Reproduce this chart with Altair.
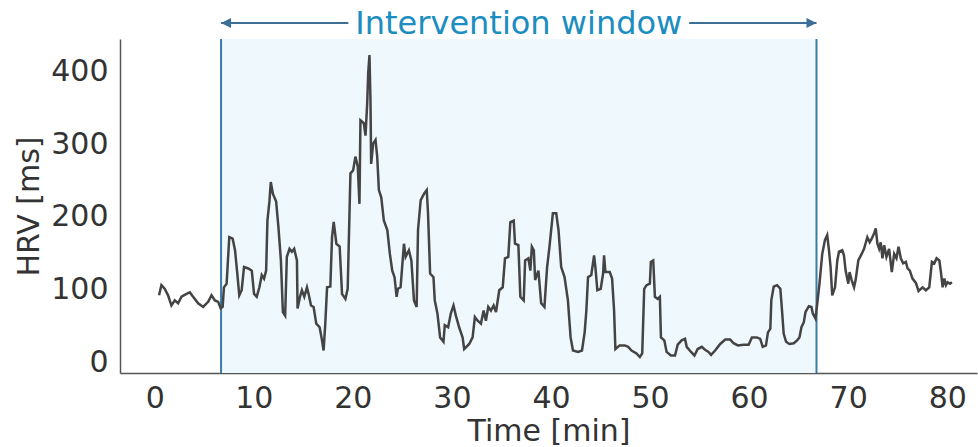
import altair as alt
import pandas as pd

# Time [min] and HRV [ms]
time_min = [0.44, 0.68, 1.01, 1.35, 1.69, 2.03, 2.36, 2.71, 3.21, 3.55, 3.88, 4.39, 4.89, 5.40, 5.74, 6.08, 6.41, 6.66, 6.86, 6.99,
            7.26, 7.53, 7.87, 8.11, 8.34, 8.54, 8.78, 9.02, 9.45, 9.80, 10.03, 10.30, 10.57, 10.81, 11.04, 11.25, 11.38, 11.58, 11.72, 11.93,
            12.26, 12.49, 12.74, 12.94, 13.17, 13.34, 13.61, 13.85, 14.08, 14.36, 14.42, 14.67, 14.86, 15.10, 15.37, 15.53, 15.78, 16.04, 16.31, 16.65,
            16.89, 17.05, 17.22, 17.40, 17.73, 17.90, 18.07, 18.34, 18.67, 18.81, 18.91, 19.25, 19.48, 19.76, 20.03, 20.26, 20.50, 20.67, 20.77, 21.11,
            21.28, 21.45, 21.55, 21.68, 21.78, 21.85, 22.05, 22.29, 22.46, 22.63, 22.87, 23.13, 23.48, 23.74, 23.98, 24.21, 24.42, 24.55, 24.82, 25.16,
            25.33, 25.66, 25.91, 26.17, 26.44, 26.58, 26.85, 27.19, 27.46, 27.59, 27.80, 28.14, 28.27, 28.54, 28.81, 29.15, 29.28, 29.62, 29.89, 30.16,
            30.40, 30.73, 31.08, 31.24, 31.75, 32.09, 32.32, 32.60, 32.93, 33.20, 33.43, 33.67, 33.94, 34.21, 34.45, 34.78, 35.13, 35.36, 35.69, 35.90,
            36.24, 36.37, 36.71, 36.91, 37.25, 37.39, 37.72, 37.92, 38.07, 38.27, 38.40, 38.73, 39.01, 39.34, 39.61, 39.85, 40.19, 40.53, 40.76, 41.03,
            41.37, 41.71, 41.98, 42.22, 42.73, 43.13, 43.40, 43.57, 43.74, 44.07, 44.35, 44.48, 44.68, 45.02, 45.26, 45.36, 45.49, 45.93, 46.17, 46.37,
            46.50, 46.94, 47.45, 47.79, 48.13, 48.63, 48.97, 49.21, 49.41, 49.65, 49.98, 50.08, 50.32, 50.49, 50.76, 50.99, 51.10, 51.44, 51.67, 52.11,
            52.52, 52.79, 53.19, 53.53, 53.70, 54.14, 54.48, 54.81, 55.22, 55.55, 55.90, 56.16, 56.57, 57.08, 57.59, 58.09, 58.43, 58.87, 59.44, 59.95,
            60.28, 60.79, 61.12, 61.37, 61.70, 61.90, 62.14, 62.24, 62.48, 62.82, 63.15, 63.32, 63.49, 63.73, 64.06, 64.51, 64.84, 65.08, 65.28, 65.52,
            65.69, 66.03, 66.29, 66.43, 66.70, 66.87, 67.10, 67.38, 67.65, 67.88, 68.06, 68.22, 68.39, 68.67, 68.90, 69.07, 69.40, 69.57, 69.74, 70.01,
            70.14, 70.35, 70.59, 70.75, 71.02, 71.36, 71.60, 71.93, 72.17, 72.37, 72.61, 72.78, 72.95, 73.12, 73.28, 73.46, 73.63, 73.86, 74.13, 74.40,
            74.64, 74.87, 75.08, 75.31, 75.55, 75.82, 75.99, 76.22, 76.49, 76.83, 77.10, 77.51, 77.84, 78.18, 78.45, 78.69, 78.92, 79.20, 79.36, 79.53,
            79.70, 79.87, 80.04, 80.27, 80.47]

hrv_ms = [92, 106, 101, 92, 78, 85, 81, 90, 94, 96, 90, 81, 76, 83, 92, 85, 83, 74, 76, 103,
          108, 172, 170, 154, 122, 92, 99, 131, 129, 126, 94, 90, 103, 120, 115, 126, 195, 221, 248, 232,
          221, 186, 140, 69, 64, 145, 156, 152, 156, 140, 74, 90, 99, 90, 103, 94, 78, 76, 53, 48,
          30, 16, 53, 103, 104, 172, 193, 163, 159, 122, 94, 87, 101, 260, 264, 283, 269, 218, 333, 329,
          312, 356, 398, 423, 361, 273, 301, 306, 283, 237, 227, 195, 182, 149, 126, 117, 90, 101, 103, 163,
          145, 154, 140, 85, 76, 182, 223, 232, 237, 205, 122, 117, 85, 67, 34, 28, 51, 48, 67, 78,
          64, 48, 34, 18, 25, 34, 62, 57, 53, 71, 57, 76, 71, 78, 69, 99, 103, 143, 145, 193,
          195, 163, 161, 90, 85, 140, 143, 126, 159, 154, 113, 126, 81, 76, 131, 159, 205, 205, 182, 131,
          117, 85, 34, 16, 14, 16, 41, 71, 117, 120, 147, 131, 99, 101, 122, 147, 124, 124, 115, 71,
          18, 23, 23, 21, 16, 12, 7, 12, 101, 106, 108, 138, 140, 90, 87, 90, 34, 30, 14, 9,
          9, 24, 30, 32, 21, 14, 9, 18, 21, 17, 14, 10, 16, 25, 31, 31, 26, 23, 24, 24,
          34, 34, 32, 21, 23, 41, 46, 85, 104, 106, 101, 71, 39, 28, 25, 26, 30, 34, 48, 55,
          69, 77, 76, 67, 60, 80, 108, 149, 168, 175, 154, 131, 92, 103, 140, 152, 154, 147, 126, 108,
          124, 113, 103, 113, 140, 149, 156, 172, 165, 170, 177, 184, 163, 156, 165, 143, 161, 145, 156, 124,
          149, 143, 159, 143, 136, 138, 129, 126, 115, 109, 98, 103, 99, 103, 138, 136, 143, 140, 124, 103,
          115, 106, 110, 108, 110]

x_ticks = [0, 10, 20, 30, 40, 50, 60, 70, 80]
y_ticks = [0, 100, 200, 300, 400]
window_start = 6.7
window_end = 66.8
window_label = "Intervention window"

FONT = "DejaVu Sans"
FS = 30
df = pd.DataFrame({"time": time_min, "hrv": hrv_ms})

x_scale = alt.Scale(domain=[-3.5, 83], nice=False, zero=False)
y_scale = alt.Scale(domain=[-15, 445], nice=False, zero=False)

x_axis = alt.Axis(title="Time [min]", values=x_ticks, grid=False, ticks=False, tickSize=0,
                  labelFontSize=FS, labelFont=FONT, labelColor="#333333",
                  labelBaseline="alphabetic", labelPadding=34,
                  titleFontSize=FS, titleFont=FONT, titleColor="#333333", titleFontWeight="normal",
                  titleBaseline="alphabetic", titleY=67,
                  domainColor="#555555", domainWidth=1.5)
y_axis = alt.Axis(title="HRV [ms]", values=y_ticks, grid=False, ticks=False, tickSize=0,
                  labelFontSize=FS, labelFont=FONT, labelColor="#333333", labelPadding=12,
                  titleFontSize=FS, titleFont=FONT, titleColor="#333333", titleFontWeight="normal",
                  titleAngle=-90, titleBaseline="alphabetic", titleX=-82,
                  domainColor="#555555", domainWidth=1.5)

ymin, ymax = y_scale.domain[0], y_scale.domain[1]
center = (window_start + window_end) / 2
half_gap = 17.2

base = alt.Chart(df)

shade = base.mark_rect(color="#eff8fd").encode(
    x=alt.X(datum=window_start, scale=x_scale, axis=x_axis),
    x2=alt.X2(datum=window_end),
    y=alt.Y(datum=ymax, scale=y_scale, axis=y_axis),
    y2=alt.Y2(datum=ymin),
)

edge_df = pd.DataFrame({"t": [window_start, window_end]})
edges = alt.Chart(edge_df).mark_rule(color="#3a7ca8", strokeWidth=2).encode(
    x=alt.X("t:Q", scale=x_scale, axis=x_axis),
    y=alt.Y(datum=ymax, scale=y_scale, axis=y_axis),
    y2=alt.Y2(datum=ymin),
)

line = base.mark_line(color="#444444", strokeWidth=2.5).encode(
    x=alt.X("time:Q", scale=x_scale, axis=x_axis),
    y=alt.Y("hrv:Q", scale=y_scale, axis=y_axis),
)

arrow_df = pd.DataFrame({"a": [window_start, center + half_gap], "b": [center - half_gap, window_end]})
arrow_lines = alt.Chart(arrow_df).mark_rule(color="#3b6f98", strokeWidth=2).encode(
    x=alt.X("a:Q", scale=x_scale, axis=x_axis),
    x2="b:Q",
    y=alt.value(-16),
)

head_left = alt.Chart(edge_df.iloc[[0]]).mark_point(
    shape="M0,0L2,-1L2,1Z", filled=True, opacity=1, color="#3b6f98", size=100
).encode(x=alt.X("t:Q", scale=x_scale, axis=x_axis), y=alt.value(-16))

head_right = alt.Chart(edge_df.iloc[[1]]).mark_point(
    shape="M0,0L-2,-1L-2,1Z", filled=True, opacity=1, color="#3b6f98", size=100
).encode(x=alt.X("t:Q", scale=x_scale, axis=x_axis), y=alt.value(-16))

label = alt.Chart(pd.DataFrame({"t": [center], "txt": [window_label]})).mark_text(
    font=FONT, fontSize=32, color="#1b8dc0", baseline="middle", align="center"
).encode(x=alt.X("t:Q", scale=x_scale, axis=x_axis), y=alt.value(-15), text="txt:N")

chart = alt.layer(shade, edges, line, arrow_lines, head_left, head_right, label).properties(
    width=857, height=334,
    background="white",
    autosize=alt.AutoSizeParams(type="none"),
    padding={"left": 120, "top": 39, "right": 1, "bottom": 74},
).configure_view(stroke=None)

chart.save("out.html", embed_options={"renderer": "svg", "actions": False})
